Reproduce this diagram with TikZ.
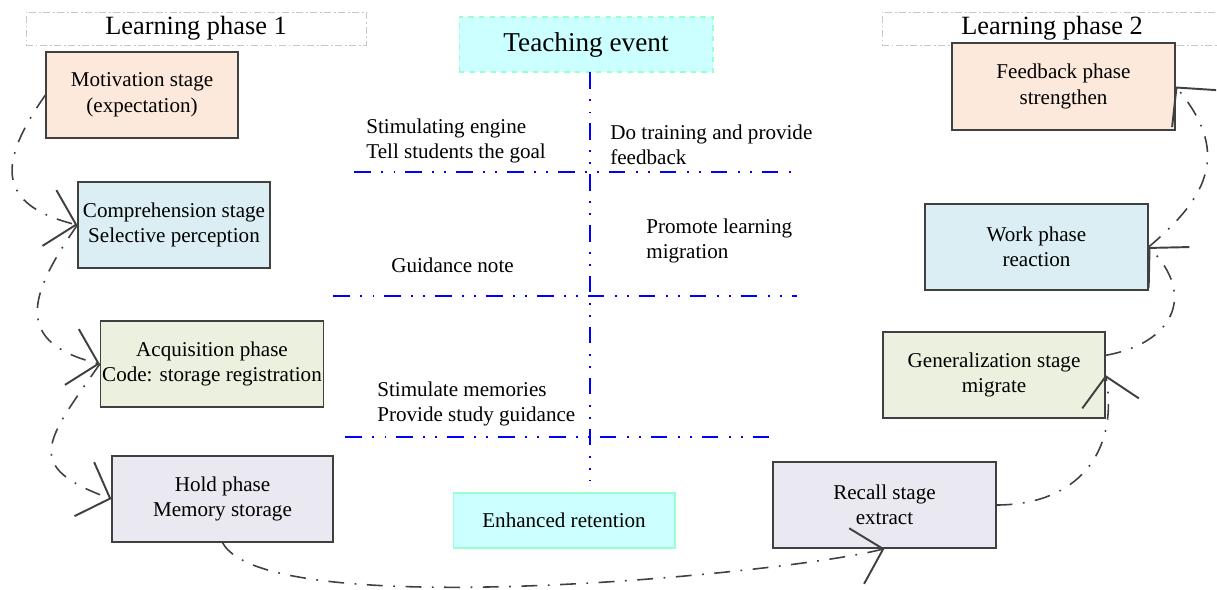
\documentclass[tikz,border=0pt]{standalone}
\usepackage{fontspec}
\setmainfont{Liberation Serif}
\usetikzlibrary{arrows.meta, positioning}

\definecolor{peach}{HTML}{FDE9DB}
\definecolor{iceblue}{HTML}{DAEEF3}
\definecolor{sage}{HTML}{EBF1DE}
\definecolor{lilac}{HTML}{EAE8F0}
\definecolor{aqua}{HTML}{CCFFFF}
\definecolor{mint}{HTML}{99FFCC}
\definecolor{inkgray}{HTML}{404040}

\begin{document}
\begin{tikzpicture}[x=0.02cm, y=-0.02cm,
    stage/.style={rectangle, draw=inkgray, line width=0.7pt, align=center, inner sep=1pt,
                  minimum height=1.72cm, font=\fontsize{12}{14.5}\selectfont},
    phase/.style={rectangle, draw=black!22, dash pattern=on 4pt off 1.5pt on 1pt off 1.5pt,
                  minimum width=6.8cm, minimum height=0.66cm, inner sep=0pt, font=\fontsize{15}{18}\selectfont},
    event/.style={rectangle, fill=aqua, draw=mint, line width=0.6pt, minimum height=1.1cm, inner sep=0pt},
    note/.style={align=left, inner sep=0pt, anchor=west, font=\fontsize{12}{14.5}\selectfont},
    divider/.style={blue, line width=1.3pt, dash pattern=on 9.5pt off 6pt on 1pt off 6pt on 1pt off 5.5pt},
    flow/.style={inkgray, line width=0.9pt, dash pattern=on 9pt off 6pt on 1pt off 6pt,
                 -{Straight Barb[length=0.55cm, width=1.15cm, line width=1.1pt]}}]
  \useasboundingbox (0,0) rectangle (1217,590);

  % headers
  \node[phase] (lp1) at (196,28.5) {Learning phase 1};
  \node[phase] (lp2) at (1052,28.5) {Learning phase 2};
  \node[event, dashed, minimum width=5.08cm, font=\fontsize{15.5}{18}\selectfont] (teach) at (586,44.5) {Teaching event};
  \node[event, minimum width=4.44cm, font=\fontsize{12}{14.5}\selectfont] (keep) at (564,520.5) {Enhanced retention};

  % learning phase 1
  \node[stage, fill=peach, minimum width=3.84cm] (mot) at (142,95) {Motivation stage\\(expectation)};
  \node[stage, fill=iceblue, minimum width=3.84cm] (comp) at (174,225) {Comprehension stage\\Selective perception};
  \node[stage, fill=sage, minimum width=4.44cm] (acq) at (212,364) {Acquisition phase\\Code: storage registration};
  \node[stage, fill=lilac, minimum width=4.42cm] (hold) at (222.5,499) {Hold phase\\Memory storage};

  % learning phase 2
  \node[stage, fill=lilac, minimum width=4.46cm] (recall) at (884.5,505) {Recall stage\\extract};
  \node[stage, fill=sage, minimum width=4.44cm] (gen) at (994,375) {Generalization stage\\migrate};
  \node[stage, fill=iceblue, minimum width=4.46cm] (work) at (1036.5,247) {Work phase\\reaction};
  \node[stage, fill=peach, minimum width=4.46cm, minimum height=1.74cm] (feed) at (1063.5,86.5) {Feedback phase\\strengthen};

  % teaching events
  \node[note] (n1) at (366,141) {Stimulating engine\\Tell students the goal};
  \node[note] (n2) at (610,145) {Do training and provide\\feedback};
  \node[note] (n3) at (391,265) {Guidance note};
  \node[note] (n4) at (646,241) {Promote learning\\migration};
  \node[note] (n5) at (377,404) {Stimulate memories\\Provide study guidance};

  \draw[divider] (590,72) -- (590,480);
  \draw[divider] (354,172) -- (793,172);
  \draw[divider] (333,296) -- (797,296);
  \draw[divider] (345,437) -- (772,437);

  \foreach \s/\t/\o/\i/\l in {mot.west/comp.west/235/166/1.6, comp.west/acq.west/235/166/1.6,
      acq.west/hold.west/235/160/1.8, hold.south/recall.south/-62/195/0.36,
      recall.east/gen.east/0/-80/1.2, gen.10/work.east/10/-45/1.5, work.east/feed.east/40/-50/1.3} {
    \path[draw, flow] (\s) to[out=\o, in=\i, looseness=\l] (\t);}
\end{tikzpicture}
\end{document}
